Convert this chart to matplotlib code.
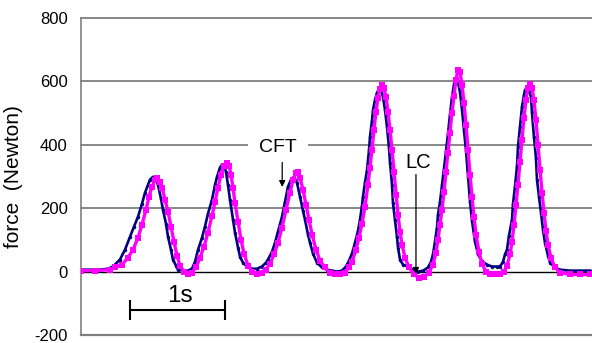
import matplotlib
matplotlib.use("Agg")
import matplotlib.pyplot as plt

plt.rcParams['font.family'] = ['Liberation Sans', 'DejaVu Sans']
plt.rcParams['axes.unicode_minus'] = False

# ---- data (time in s, force in N) ----
t_blue = [0, 0.095, 0.2, 0.284, 0.337, 0.41, 0.463, 0.516, 0.558, 0.6, 0.642, 0.674, 0.705, 0.726, 0.758,
          0.789, 0.81, 0.842, 0.863, 0.895, 0.916, 0.947, 0.968, 1.0, 1.021, 1.074, 1.126, 1.168, 1.2, 1.232,
          1.274, 1.305, 1.337, 1.379, 1.411, 1.432, 1.463, 1.484, 1.505, 1.526, 1.547, 1.568, 1.6, 1.621, 1.653,
          1.674, 1.705, 1.747, 1.8, 1.853, 1.905, 1.947, 1.968, 2.011, 2.042, 2.074, 2.116, 2.147, 2.179, 2.211,
          2.242, 2.274, 2.305, 2.337, 2.358, 2.389, 2.411, 2.442, 2.484, 2.537, 2.589, 2.642, 2.695, 2.747, 2.789,
          2.811, 2.853, 2.884, 2.916, 2.937, 2.958, 2.968, 2.989, 3.011, 3.032, 3.042, 3.063, 3.074, 3.095, 3.116,
          3.137, 3.158, 3.179, 3.2, 3.221, 3.242, 3.253, 3.274, 3.284, 3.305, 3.326, 3.337, 3.358, 3.389, 3.442,
          3.495, 3.547, 3.6, 3.653, 3.684, 3.705, 3.726, 3.747, 3.758, 3.779, 3.8, 3.821, 3.842, 3.863, 3.884,
          3.905, 3.926, 3.947, 3.968, 3.989, 4.011, 4.032, 4.053, 4.074, 4.095, 4.116, 4.147, 4.179, 4.221, 4.274,
          4.326, 4.379, 4.411, 4.442, 4.463, 4.484, 4.505, 4.537, 4.547, 4.568, 4.589, 4.6, 4.621, 4.642, 4.663,
          4.674, 4.695, 4.716, 4.737, 4.747, 4.768, 4.789, 4.8, 4.821, 4.842, 4.863, 4.884, 4.916, 4.937, 4.989,
          5.042, 5.147, 5.253, 5.358]
f_blue = [6, 6, 6, 9, 16, 38, 69, 110, 142, 173, 214, 249, 274, 290, 299,
          290, 274, 230, 195, 151, 110, 69, 38, 19, 6, 3, 3, 9, 31, 69,
          107, 142, 183, 227, 274, 299, 328, 337, 334, 315, 274, 227, 164, 123, 76,
          47, 28, 16, 9, 9, 16, 28, 38, 63, 91, 126, 173, 220, 268, 290,
          299, 280, 236, 192, 164, 117, 91, 57, 28, 13, 6, 3, 0, 3, 16,
          28, 57, 91, 129, 164, 208, 236, 280, 321, 384, 425, 476, 510, 542, 564,
          576, 573, 551, 510, 457, 391, 343, 274, 217, 164, 110, 76, 38, 22, 16,
          6, 0, 3, 13, 31, 54, 94, 139, 180, 220, 272, 325, 380, 435, 495,
          550, 590, 611, 598, 567, 510, 445, 380, 300, 221, 160, 95, 55, 32, 22,
          16, 16, 16, 31, 54, 69, 113, 164, 212, 268, 331, 394, 457, 520, 557,
          573, 580, 570, 551, 502, 425, 359, 290, 236, 186, 132, 91, 50, 28, 13,
          6, 3, 3, 3]

t_mag = [0, 0.147, 0.305, 0.358, 0.432, 0.495, 0.547, 0.6, 0.642, 0.684, 0.716, 0.747, 0.779, 0.8, 0.832,
         0.853, 0.884, 0.916, 0.947, 0.979, 1.011, 1.042, 1.084, 1.126, 1.168, 1.211, 1.253, 1.295, 1.337, 1.379,
         1.411, 1.442, 1.474, 1.505, 1.537, 1.558, 1.579, 1.6, 1.621, 1.653, 1.684, 1.716, 1.758, 1.8, 1.853,
         1.905, 1.947, 1.989, 2.032, 2.074, 2.116, 2.158, 2.2, 2.232, 2.263, 2.284, 2.305, 2.337, 2.368, 2.4,
         2.432, 2.474, 2.516, 2.568, 2.621, 2.674, 2.726, 2.779, 2.821, 2.853, 2.895, 2.926, 2.958, 2.989, 3.021,
         3.042, 3.063, 3.084, 3.105, 3.126, 3.147, 3.168, 3.189, 3.211, 3.232, 3.253, 3.274, 3.295, 3.316, 3.337,
         3.358, 3.379, 3.411, 3.453, 3.505, 3.558, 3.611, 3.663, 3.705, 3.737, 3.758, 3.779, 3.8, 3.821, 3.842,
         3.863, 3.884, 3.905, 3.926, 3.947, 3.968, 3.989, 4.011, 4.032, 4.053, 4.074, 4.095, 4.116, 4.137, 4.158,
         4.189, 4.221, 4.263, 4.305, 4.358, 4.411, 4.453, 4.484, 4.516, 4.537, 4.558, 4.579, 4.6, 4.621, 4.642,
         4.663, 4.684, 4.705, 4.726, 4.747, 4.768, 4.789, 4.811, 4.832, 4.853, 4.874, 4.895, 4.916, 4.947, 4.989,
         5.042, 5.147, 5.253, 5.358]
f_mag = [3, 3, 6, 13, 22, 44, 69, 107, 148, 195, 236, 268, 290, 296, 283,
         265, 227, 189, 142, 94, 50, 19, 0, -6, -3, 13, 44, 79, 123, 176,
         220, 265, 306, 334, 343, 334, 306, 265, 217, 157, 101, 57, 19, 0, -6,
         -3, 6, 25, 54, 91, 139, 195, 249, 290, 312, 315, 296, 258, 211, 164,
         117, 69, 35, 13, -3, -9, -9, -3, 13, 31, 69, 107, 151, 205, 274,
         328, 384, 447, 504, 548, 576, 589, 580, 551, 504, 447, 384, 315, 243, 180,
         126, 85, 44, 13, -9, -19, -16, -3, 22, 60, 101, 148, 195, 252, 315,
         375, 438, 501, 554, 605, 636, 630, 589, 532, 463, 384, 306, 236, 173, 117,
         63, 25, 0, -9, -9, -9, 0, 19, 54, 94, 148, 211, 274, 346, 416,
         485, 542, 580, 592, 580, 542, 479, 400, 321, 249, 186, 129, 85, 44, 13,
         -3, -9, -9, -9]

y_ticks = [-200, 0, 200, 400, 600, 800]
y_label = "force  (Newton)"

# ---- figure ----
fig = plt.figure(figsize=(5.92, 3.43), dpi=100)
ax = fig.add_axes([81 / 592, 8 / 343, 511 / 592, 317 / 343])
ax.set_xlim(0, 511 / 95)
ax.set_ylim(-200, 800)

for v in y_ticks:
    if v == 0:
        ax.axhline(v, color='black', lw=1.0, zorder=1)
    elif v != -200:
        ax.axhline(v, color='#7f7f7f', lw=1.3, zorder=1, clip_on=False)

ax.plot(t_blue, f_blue, color='#000080', lw=1.9, marker='o', ms=2.5, mew=0, zorder=3)
ax.plot(t_mag, f_mag, color='#ff00ff', lw=2.4, marker='s', ms=4.6, mew=0, zorder=4)

ax.set_yticks(y_ticks)
ax.set_xticks([])
ax.tick_params(axis='y', length=0, pad=9.5, labelsize=12)
ax.set_ylabel(y_label, fontsize=15, labelpad=4)
ax.yaxis.set_label_coords(-0.113, 0.5)

for s in ['top', 'right']:
    ax.spines[s].set_visible(False)
ax.spines['left'].set_color('#808080')
ax.spines['left'].set_linewidth(1.2)
ax.spines['bottom'].set_color('#808080')
ax.spines['bottom'].set_linewidth(1.6)

# annotations
ax.text(2.074, 391, "CFT", fontsize=14, ha='center', va='center', zorder=2,
        bbox=dict(boxstyle='square,pad=0.55', fc='white', ec='none'))
ax.annotate("", xy=(2.118, 258), xytext=(2.118, 353),
            arrowprops=dict(arrowstyle='-|>', color='black', lw=0.9, mutation_scale=9), zorder=5)
ax.text(3.547, 343, "LC", fontsize=14.5, ha='center', va='center', zorder=5)
ax.annotate("", xy=(3.526, -16), xytext=(3.526, 315),
            arrowprops=dict(arrowstyle='-|>', color='black', lw=0.9, mutation_scale=9), zorder=5)

# 1 s scale bar
ax.plot([0.516, 1.516], [-120, -120], color='black', lw=1.5, zorder=5)
ax.plot([0.516, 1.516], [-120, -120], ls='none', marker='|', ms=14, mew=1.5, color='black', zorder=5)
ax.text(1.042, -76, "1s", fontsize=17.5, ha='center', va='center', zorder=5)

fig.savefig("out.png", dpi=100)
